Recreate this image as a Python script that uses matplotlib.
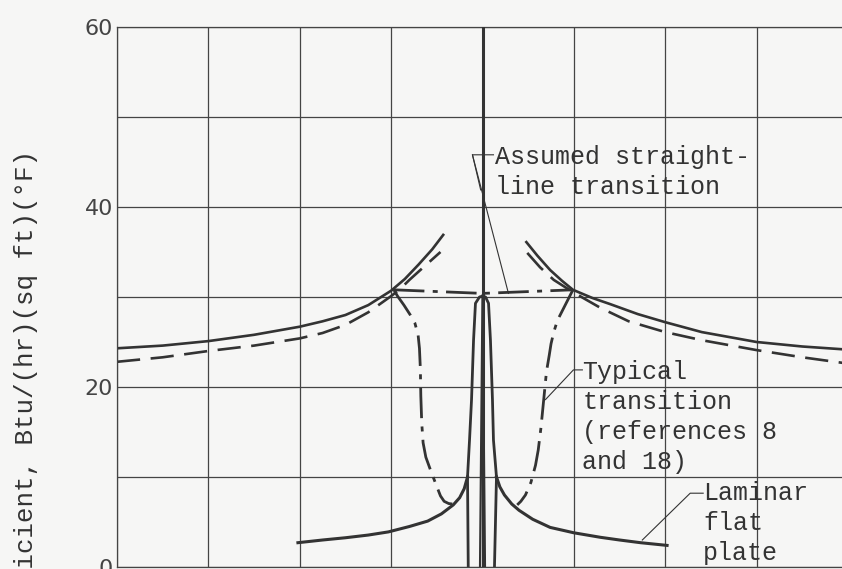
import matplotlib.pyplot as plt

# turbulent curves (solid = one estimate, dashed = other)
turb_left_x = [-4.0, -3.5, -3.0, -2.5, -2.0, -1.75, -1.5, -1.25, -1.0, -0.85, -0.7, -0.55, -0.43]
turb_left_y = [24.3, 24.6, 25.1, 25.8, 26.7, 27.3, 28.0, 29.1, 30.7, 32.0, 33.6, 35.3, 36.9]
turb_left_dash_x = [-4.0, -3.5, -3.0, -2.5, -2.0, -1.75, -1.5, -1.25, -1.0, -0.9, -0.8, -0.68, -0.57, -0.46]
turb_left_dash_y = [22.8, 23.3, 24.0, 24.6, 25.4, 26.0, 26.9, 28.3, 30.1, 30.9, 31.9, 33.0, 34.0, 35.0]
turb_right_x = [0.48, 0.6, 0.74, 0.87, 0.99, 1.2, 1.4, 1.7, 2.0, 2.4, 3.0, 3.5, 4.0]
turb_right_y = [36.1, 34.6, 33.0, 31.8, 30.8, 29.9, 29.2, 28.1, 27.2, 26.1, 25.0, 24.5, 24.15]
turb_right_dash_x = [0.49, 0.63, 0.78, 0.95, 1.1, 1.29, 1.6, 2.0, 2.4, 3.0, 3.5, 4.0]
turb_right_dash_y = [34.9, 33.3, 31.9, 30.8, 29.9, 28.8, 27.3, 26.1, 25.2, 24.1, 23.3, 22.6]

# laminar flat plate
lam_left_x = [-2.02, -1.75, -1.5, -1.25, -1.03, -0.8, -0.6, -0.45, -0.32, -0.25, -0.2, -0.164]
lam_left_y = [2.7, 3.0, 3.25, 3.55, 3.9, 4.5, 5.1, 5.9, 6.9, 7.7, 8.7, 10.0]
lam_right_x = [0.153, 0.19, 0.24, 0.32, 0.4, 0.55, 0.74, 1.0, 1.29, 1.5, 1.73, 2.02]
lam_right_y = [10.0, 8.9, 8.0, 7.0, 6.3, 5.3, 4.4, 3.8, 3.3, 3.0, 2.7, 2.4]

# stagnation spike
spike_l_x = [-0.156, -0.164, -0.142, -0.12, -0.098, -0.077, -0.033, 0.0]
spike_l_y = [0.0, 10.0, 14.1, 18.6, 25.2, 29.3, 30.0, 30.1]
spike_r_x = [0.131, 0.153, 0.12, 0.109, 0.087, 0.066, 0.033, 0.0]
spike_r_y = [0.0, 10.0, 14.1, 18.6, 25.2, 29.3, 30.0, 30.1]
inner_x = [-0.027, 0.0, 0.027]
inner_y = [0.0, 30.1, 0.0]

# typical transition (dash-dot)
trans_left_x = [-0.97, -0.93, -0.86, -0.79, -0.74, -0.705, -0.69, -0.68, -0.675,
                -0.665, -0.65, -0.62, -0.57, -0.51, -0.46, -0.42, -0.37, -0.33]
trans_left_y = [30.8, 30.1, 29.1, 28.0, 27.1, 25.8, 24.3, 22.0, 19.0,
                16.0, 13.8, 12.2, 10.8, 9.2, 7.9, 7.3, 7.05, 7.0]
trans_right_x = [0.99, 0.94, 0.88, 0.82, 0.78, 0.75, 0.73, 0.70, 0.67, 0.64,
                 0.61, 0.58, 0.53, 0.47, 0.42, 0.38]
trans_right_y = [30.8, 29.8, 28.6, 27.4, 26.1, 24.8, 23.5, 21.7, 18.6, 15.5,
                 13.0, 11.3, 9.4, 8.0, 7.3, 6.9]

# assumed straight-line transition
straight_x = [-0.97, 0.0, 0.99]
straight_y = [30.8, 30.4, 30.8]

ink = '#333333'
bg = '#f6f6f5'
mono = 'Liberation Mono'

fig = plt.figure(figsize=(8.42, 5.69), dpi=100, facecolor=bg)
ax = fig.add_axes([117 / 842, 2 / 569, 731 / 842, 540 / 569], facecolor=bg)

ax.set_xlim(-4, 4)
ax.set_ylim(0, 60)
ax.set_xticks(range(-4, 5))
ax.set_xticklabels([])
ax.set_yticks(range(0, 61, 10))
ax.set_yticklabels(['0', '', '20', '', '40', '', '60'])
ax.tick_params(length=0, pad=3, labelsize=16, labelcolor='#444444')
ax.grid(True, color='#444444', lw=0.9)
ax.set_axisbelow(True)
for s in ax.spines.values():
    s.set_color('#444444')
    s.set_linewidth(0.9)
ax.axvline(0, color=ink, lw=2.2, zorder=3)

dash = (8.8, 4)
ax.plot(turb_left_x, turb_left_y, color=ink, lw=1.9)
ax.plot(turb_right_x, turb_right_y, color=ink, lw=1.9)
ax.plot(turb_left_dash_x, turb_left_dash_y, color=ink, lw=1.9, dashes=dash)
ax.plot(turb_right_dash_x, turb_right_dash_y, color=ink, lw=1.9, dashes=dash)

ax.plot(lam_left_x, lam_left_y, color=ink, lw=2.2)
ax.plot(lam_right_x, lam_right_y, color=ink, lw=2.2)
ax.plot(spike_l_x, spike_l_y, color=ink, lw=2.0)
ax.plot(spike_r_x, spike_r_y, color=ink, lw=2.0)
ax.plot(inner_x, inner_y, color=ink, lw=1.6)

dashdot = (11, 3, 1.8, 3)
ax.plot(trans_left_x, trans_left_y, color=ink, lw=2.0, dashes=dashdot)
ax.plot(trans_right_x, trans_right_y, color=ink, lw=2.0, dashes=dashdot)
ax.plot(straight_x, straight_y, color=ink, lw=2.0, dashes=dashdot)

# annotations with leaders
ax.text(0.142, 43.9, 'Assumed straight-\nline transition', family=mono, size=18,
        color=ink, ha='left', va='center', linespacing=1.3)
ax.plot([0.12, -0.11, 0.284], [45.8, 45.8, 30.4], color=ink, lw=0.8)
ax.plot([-0.11, -0.02], [45.8, 41.9], color=ink, lw=0.8)

ax.text(1.093, 16.67, 'Typical\ntransition\n(references 8\nand 18)', family=mono,
        size=18, color=ink, ha='left', va='center', linespacing=1.3)
ax.plot([1.093, 0.995, 0.689], [21.9, 21.9, 18.6], color=ink, lw=0.8)

ax.text(2.415, 4.89, 'Laminar\nflat\nplate', family=mono, size=18, color=ink,
        ha='left', va='center', linespacing=1.3)
ax.plot([2.415, 2.273, 1.749], [8.2, 8.2, 3.0], color=ink, lw=0.8)

fig.text(26 / 842, 1 - 150 / 569, 'Heat-transfer coefficient, Btu/(hr)(sq ft)(°F)',
         family=mono, size=18.6, color=ink, rotation=90, ha='center', va='top')

fig.savefig('out.png', dpi=100, facecolor=bg)
